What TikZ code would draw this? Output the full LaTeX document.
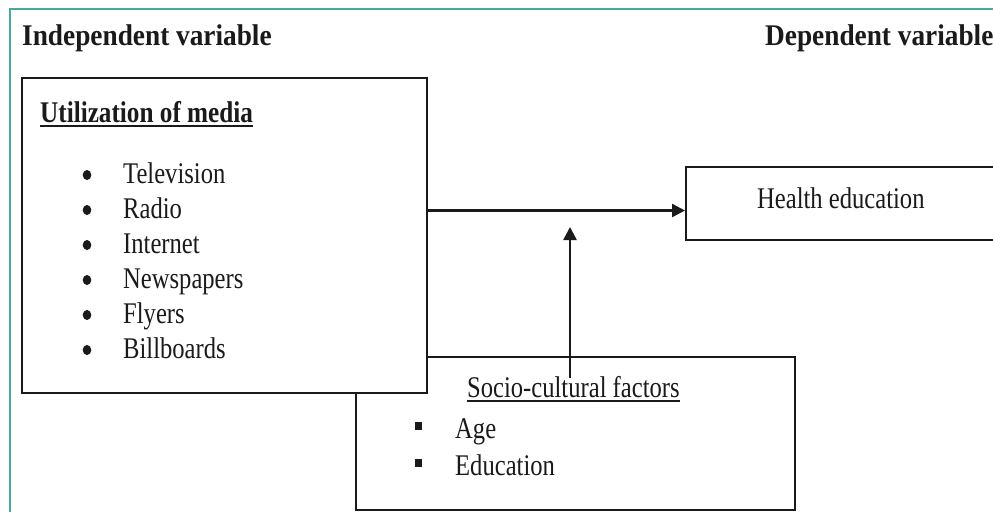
\documentclass[tikz,border=0pt]{standalone}
\usepackage{fontspec}
\setmainfont{Liberation Serif}
\newfontfamily\bodyf{Liberation Serif}[FakeStretch=0.82]
\newfontfamily\titf{Liberation Serif Bold}[FakeStretch=0.84]
\newfontfamily\headf{Liberation Serif Bold}[FakeStretch=0.91]
\usetikzlibrary{arrows.meta}
\definecolor{frameteal}{HTML}{4AA8A0}
\definecolor{ink}{HTML}{1A1A1A}
\tikzset{
  box/.style={draw=ink, line width=1.8pt, fill=white, anchor=north west, inner sep=0pt},
  txt/.style={anchor=base west, inner sep=0pt, font=\bodyf\fontsize{30}{36}\selectfont, text=ink},
  ttl/.style={anchor=base west, inner sep=0pt, font=\titf\fontsize{30}{36}\selectfont, text=ink},
  hdr/.style={anchor=base west, inner sep=0pt, font=\headf\fontsize{30}{36}\selectfont, text=ink},
  conn/.style={draw=ink, line width=2.4pt, -{Triangle[length=13pt,width=13pt]}},
  uline/.style={draw=ink, line width=1.6pt},
}
\begin{document}
\begin{tikzpicture}[x=1pt,y=-1pt]
\useasboundingbox (0,0) rectangle (993,512);
\clip (0,0) rectangle (993,512);
\fill[white] (0,0) rectangle (993,512);
% frame
\draw[frameteal, line width=1.5pt] (10,512) -- (10,9) -- (993,9);
% headers
\node[hdr] (indep) at (22,45) {Independent variable};
\node[hdr] (dep) at (765,45) {Dependent variable};
% boxes
\node[box, minimum width=439pt, minimum height=153pt] (socio) at (355,356) {};
\node[box, minimum width=405pt, minimum height=315pt] (media) at (21,77) {};
\node[box, minimum width=330pt, minimum height=73pt] (health) at (685,166) {};
% media box content
\node[ttl] (mtitle) at (40,122) {Utilization of media};
\draw[uline] ([yshift=-4pt]mtitle.base west) -- ([yshift=-4pt]mtitle.base east);
\foreach \t [count=\i from 0] in {Television,Radio,Internet,Newspapers,Flyers,Billboards}{
  \node[txt] (m\i) at (123,183+35*\i) {\t};
  \fill[ink] (87,175+35*\i) ellipse [x radius=4.3pt, y radius=5pt];
}
% health
\node[txt] (htext) at (757,208) {Health education};
% socio content
\node[txt] (stitle) at (467,397) {Socio-cultural factors};
\draw[uline, line width=1.3pt] ([yshift=-4pt]stitle.base west) -- ([yshift=-4pt]stitle.base east);
\node[txt] (s1) at (455,438) {Age};
\node[txt] (s2) at (455,475) {Education};
\fill[ink] (414.5,422) rectangle (421.5,430);
\fill[ink] (414.5,459) rectangle (421.5,467);
% connectors
\coordinate (ay) at (0,210.5);
\draw[conn] (media.east |- ay) -- (health.west |- ay);
\coordinate (vstart) at (570,378);
\coordinate (vtip) at (570,227);
\draw[conn] (vstart) -- (vtip);
\end{tikzpicture}
\end{document}
